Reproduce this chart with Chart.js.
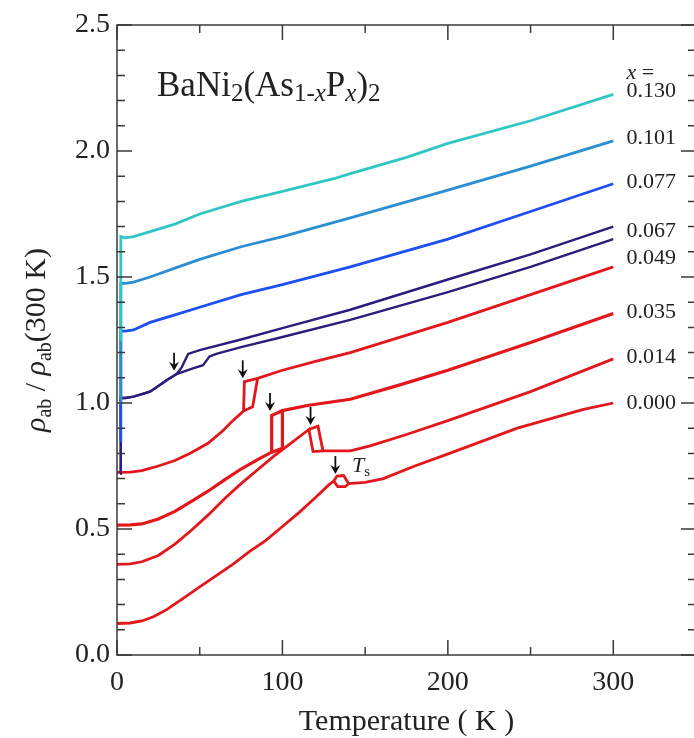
<!DOCTYPE html>
<html lang="en">
<head>
    <meta charset="UTF-8">
    <title>BaNi2(As1-xPx)2 resistivity</title>
    <script src="https://cdn.jsdelivr.net/npm/chart.js"></script>
    <style>
        html, body { margin: 0; padding: 0; overflow: hidden; background: #fff; }
        canvas { display: block; }
    </style>
</head>
<body>
    <canvas id="rhoChart" width="700" height="738"></canvas>

    <script>
        // Кривые: пары [T (K), rho/rho(300K)]
        const x130 = [[2,1.25],[2.3,1.66],[5,1.655],[10,1.66],[20,1.68],[35,1.71],[50,1.75],[75,1.80],[100,1.84],[131,1.89],[141,1.91],[175,1.975],[200,2.03],[250,2.12],[300,2.225]];
        const x101 = [[2,1.0],[2.3,1.475],[5,1.475],[10,1.48],[20,1.50],[35,1.535],[50,1.57],[75,1.62],[100,1.66],[141,1.735],[200,1.845],[250,1.94],[300,2.04]];
        const x077 = [[2,0.85],[2.3,1.285],[5,1.285],[10,1.29],[20,1.32],[35,1.35],[50,1.38],[75,1.43],[100,1.47],[141,1.54],[200,1.65],[250,1.76],[300,1.87]];
        const x067a = [[2,0.72],[2.3,1.02],[5,1.02],[10,1.025],[20,1.045],[30,1.09],[36,1.115],[39,1.14],[43,1.195],[50,1.21],[75,1.252],[100,1.297],[141,1.37],[200,1.49],[250,1.59],[300,1.70]];
        const x067b = [[2,0.72],[2.3,1.02],[5,1.02],[10,1.025],[20,1.045],[30,1.09],[36,1.115],[45,1.135],[52,1.15],[56,1.185],[60,1.195],[75,1.222],[100,1.262],[141,1.33],[200,1.44],[250,1.54],[300,1.65]];
        const x049 = [[0,0.725],[8,0.726],[15,0.732],[25,0.75],[35,0.772],[44,0.80],[55,0.84],[64,0.89],[70,0.93],[76.5,0.968],[77,1.085],[85,1.098],[100,1.13],[120,1.165],[141,1.20],[200,1.32],[250,1.43],[300,1.54]];
        const x049loop = [[76.5,0.968],[82,0.985],[85,1.098]];
        const x035 = [[0,0.515],[8,0.516],[15,0.52],[25,0.54],[35,0.57],[45,0.61],[55,0.65],[65,0.695],[75,0.738],[85,0.775],[93.5,0.805],[93.5,0.95],[100,0.97],[115,0.99],[141,1.015],[170,1.07],[200,1.13],[250,1.24],[300,1.355]];
        const x035loop = [[93.5,0.805],[100,0.82],[100,0.97]];
        const x014 = [[0,0.36],[8,0.362],[15,0.37],[25,0.395],[35,0.44],[45,0.495],[55,0.555],[65,0.62],[75,0.68],[85,0.735],[95,0.79],[105,0.84],[112,0.875],[116,0.895],[118.5,0.807],[125,0.81],[141,0.81],[153,0.83],[175,0.875],[200,0.93],[250,1.045],[300,1.175]];
        const x014loop = [[116,0.895],[121.5,0.908],[124.5,0.81]];
        const x000 = [[0,0.125],[8,0.127],[15,0.135],[22,0.152],[30,0.18],[40,0.225],[50,0.27],[60,0.315],[70,0.36],[80,0.41],[90,0.455],[100,0.51],[110,0.565],[120,0.625],[128,0.675],[131,0.69],[133,0.71],[137,0.712],[140,0.68],[150,0.685],[161,0.70],[180,0.75],[201,0.80],[242,0.90],[282,0.975],[300,1.0]];
        const x000loop = [[131,0.69],[133.5,0.668],[138,0.668],[140,0.68]];

        // Подписи составов справа
        const compLabels = ['0.130', '0.101', '0.077', '0.067', '0.049', '0.035', '0.014', '0.000'];
        const compLabelY = [2.238, 2.05, 1.877, 1.68, 1.575, 1.36, 1.18, 1.0];

        // Стрелки T_s: температура и значение у острия
        const arrowT = [34.5, 76, 92.5, 117, 132];
        const arrowTip = [1.12, 1.09, 0.96, 0.905, 0.71];

        // Деления осей
        const xTicks = [0, 50, 100, 150, 200, 250, 300, 350];
        const xMajor = [0, 100, 200, 300];
        const yTicks = [];
        for (let i = 0; i <= 25; i++) yTicks.push(i / 10);

        const RED = '#e3161c';
        const SERIF = '"Liberation Serif", "Times New Roman", serif';

        function ds(points, color, width) {
            return {
                data: points.map(p => ({ x: p[0], y: p[1] })),
                borderColor: color,
                borderWidth: width || 2.8,
                pointRadius: 0,
                tension: 0,
                fill: false
            };
        }

        // Текст с нижними индексами: [текст, размер, стиль, сдвиг]
        function richText(ctx, x, y, parts, align) {
            let w = 0;
            parts.forEach(p => {
                ctx.font = (p[2] || '') + ' ' + p[1] + 'px ' + SERIF;
                w += ctx.measureText(p[0]).width;
            });
            let cx = align === 'center' ? x - w / 2 : x;
            parts.forEach(p => {
                ctx.font = (p[2] || '') + ' ' + p[1] + 'px ' + SERIF;
                ctx.fillText(p[0], cx, y + (p[3] || 0));
                cx += ctx.measureText(p[0]).width;
            });
        }

        const decor = {
            id: 'decor',
            afterDatasetsDraw(chart) {
                const ctx = chart.ctx;
                const xs = chart.scales.x, ys = chart.scales.y;
                const a = chart.chartArea;
                ctx.save();
                ctx.strokeStyle = '#3a3a3a';
                ctx.lineWidth = 1.5;
                ctx.strokeRect(a.left, a.top, a.right - a.left, a.bottom - a.top);

                // внутренние засечки
                ctx.beginPath();
                xTicks.forEach(v => {
                    const px = xs.getPixelForValue(v);
                    const len = xMajor.includes(v) ? 15 : 8;
                    ctx.moveTo(px, a.bottom); ctx.lineTo(px, a.bottom - len);
                    ctx.moveTo(px, a.top); ctx.lineTo(px, a.top + len);
                });
                yTicks.forEach(v => {
                    const py = ys.getPixelForValue(v);
                    const len = Math.round(v * 10) % 5 === 0 ? 15 : 8;
                    ctx.moveTo(a.left, py); ctx.lineTo(a.left + len, py);
                    ctx.moveTo(a.right, py); ctx.lineTo(a.right - len, py);
                });
                ctx.stroke();

                // стрелки
                ctx.strokeStyle = '#111';
                ctx.fillStyle = '#111';
                ctx.lineWidth = 1.8;
                arrowT.forEach((t, i) => {
                    const px = xs.getPixelForValue(t);
                    const py = ys.getPixelForValue(arrowTip[i]) - 2;
                    ctx.beginPath();
                    ctx.moveTo(px, py - 18); ctx.lineTo(px, py - 4);
                    ctx.stroke();
                    ctx.beginPath();
                    ctx.moveTo(px, py);
                    ctx.lineTo(px - 5, py - 9);
                    ctx.lineTo(px, py - 6);
                    ctx.lineTo(px + 5, py - 9);
                    ctx.closePath();
                    ctx.fill();
                });

                ctx.fillStyle = '#222';
                ctx.textBaseline = 'alphabetic';
                ctx.textAlign = 'left';

                // формула
                richText(ctx, 157, 96, [
                    ['BaNi', 35], ['2', 25, '', 5], ['(As', 35], ['1-', 25, '', 5], ['x', 25, 'italic', 5],
                    ['P', 35], ['x', 25, 'italic', 5], [')', 35], ['2', 25, '', 5]
                ]);

                // подписи x
                const lx = xs.getPixelForValue(308);
                ctx.textBaseline = 'middle';
                richText(ctx, lx, ys.getPixelForValue(2.31), [['x', 22, 'italic'], [' =', 22]]);
                compLabels.forEach((s, i) => {
                    richText(ctx, lx, ys.getPixelForValue(compLabelY[i]), [[s, 22]]);
                });

                // T_s
                ctx.textBaseline = 'alphabetic';
                richText(ctx, xs.getPixelForValue(142), ys.getPixelForValue(0.726), [['T', 22, 'italic'], ['s', 15, '', 4]]);

                // подпись оси x
                richText(ctx, (a.left + a.right) / 2, 730, [['Temperature ( K )', 30]], 'center');

                // подпись оси y
                ctx.translate(45, (a.top + a.bottom) / 2);
                ctx.rotate(-Math.PI / 2);
                richText(ctx, 0, 0, [
                    ['ρ', 30, 'italic'], ['ab', 20, '', 6], [' / ', 30],
                    ['ρ', 30, 'italic'], ['ab', 20, '', 6], ['(300 K)', 30]
                ], 'center');
                ctx.restore();
            }
        };

        const ctx = document.getElementById('rhoChart').getContext('2d');
        const rhoChart = new Chart(ctx, {
            type: 'line',
            data: {
                datasets: [
                    ds(x130, '#30c6c4'),
                    ds(x101, '#2b8ed3'),
                    ds(x077, '#1d4ff2'),
                    ds(x067a, '#2d1c7c', 2.4),
                    ds(x067b, '#2d1c7c', 2.4),
                    ds(x049, RED), ds(x049loop, RED),
                    ds(x035, RED, 3.2), ds(x035loop, RED, 3.2),
                    ds(x014, RED), ds(x014loop, RED),
                    ds(x000, RED), ds(x000loop, RED)
                ]
            },
            plugins: [decor],
            options: {
                responsive: false,
                devicePixelRatio: 1,
                animation: false,
                layout: { padding: { left: 0, top: 25, right: 4, bottom: 0 } },
                plugins: { legend: { display: false }, tooltip: { enabled: false } },
                scales: {
                    x: {
                        type: 'linear',
                        min: 0,
                        max: 350,
                        grid: { display: false, drawTicks: false },
                        border: { display: false },
                        afterFit: s => { s.height = 83; },
                        ticks: {
                            stepSize: 100,
                            includeBounds: false,
                            padding: 11,
                            color: '#222',
                            font: { size: 28, family: SERIF }
                        }
                    },
                    y: {
                        min: 0,
                        max: 2.5,
                        grid: { display: false, drawTicks: false },
                        border: { display: false },
                        afterFit: s => { s.width = 117; },
                        ticks: {
                            stepSize: 0.5,
                            padding: 7,
                            color: '#222',
                            font: { size: 28, family: SERIF },
                            callback: v => v.toFixed(1)
                        }
                    }
                }
            }
        });
    </script>
</body>
</html>
